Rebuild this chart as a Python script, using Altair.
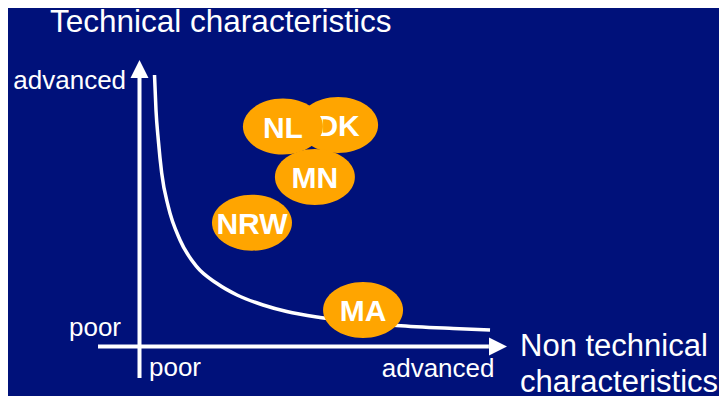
import altair as alt
import pandas as pd

# ---- data (units: 0 = origin, 10 = curve extent) ----
countries = ["DK", "NL", "MN", "NRW", "MA"]          # drawing order matters (overlaps)
nontech_score = [5.65, 4.08, 4.99, 3.20, 6.36]
tech_score = [8.16, 8.10, 6.24, 4.56, 1.34]

curve_x = [0.427, 0.469, 0.535, 0.632, 0.819, 1.152, 1.627, 2.196, 2.774,
           3.514, 4.188, 5.135, 7.317, 8.927, 9.972]
curve_y = [10.0, 8.711, 7.606, 6.379, 5.149, 3.923, 2.939, 2.328, 1.897,
           1.529, 1.289, 1.068, 0.773, 0.663, 0.608]

axis_labels = ["advanced", "poor", "poor", "advanced"]
axis_label_x = [-3.590, -2.006, 0.270, 6.891]
axis_label_y = [9.473, 0.387, -1.087, -1.112]

title_lines = ["Technical characteristics", "Non technical", "characteristics"]
title_x = [-2.546, 10.825, 10.825]
title_y = [11.602, -0.350, -1.665]
title_sizes = [31.5, 31, 31]

axis_seg_x = [0.0, -1.18]
axis_seg_y = [-1.16, 0.0]
axis_seg_x2 = [0.0, 9.94]
axis_seg_y2 = [9.93, 0.0]

# ---- styling ----
BG = "#00117A"
ORANGE = "#FFA500"
FONT = "Liberation Sans"
X_DOMAIN = [-3.741, 16.486]
Y_DOMAIN = [-1.823, 12.468]

ELLIPSE = ("M -1 0 C -1 -0.3866 -0.5523 -0.7 0 -0.7 C 0.5523 -0.7 1 -0.3866 1 0 "
           "C 1 0.3866 0.5523 0.7 0 0.7 C -0.5523 0.7 -1 0.3866 -1 0 Z")
ARROW_UP = "M 0 -1 L 1 1 L -1 1 Z"
ARROW_RIGHT = "M 1 0 L -1 -1 L -1 1 Z"

xs = alt.Scale(domain=X_DOMAIN, nice=False, zero=False)
ys = alt.Scale(domain=Y_DOMAIN, nice=False, zero=False)


def X(f):
    return alt.X(f, type="quantitative", scale=xs, axis=None)


def Y(f):
    return alt.Y(f, type="quantitative", scale=ys, axis=None)


curve_df = pd.DataFrame({"x": curve_x, "y": curve_y})
seg_df = pd.DataFrame({"x": axis_seg_x, "y": axis_seg_y, "x2": axis_seg_x2, "y2": axis_seg_y2})
arrow_up_df = pd.DataFrame({"x": [0.0], "y": [10.221]})
arrow_right_df = pd.DataFrame({"x": [10.199], "y": [0.0]})
lab_df = pd.DataFrame({"t": axis_labels, "x": axis_label_x, "y": axis_label_y})
tit_df = pd.DataFrame({"t": title_lines, "x": title_x, "y": title_y, "s": title_sizes})
c_df = pd.DataFrame({"c": countries, "x": nontech_score, "y": tech_score})

curve = alt.Chart(curve_df).mark_line(color="white", strokeWidth=3.5, interpolate="monotone").encode(
    x=X("x"), y=Y("y"))
segs = alt.Chart(seg_df).mark_rule(color="white", strokeWidth=4).encode(
    x=X("x"), y=Y("y"), x2="x2", y2="y2")
arr_up = alt.Chart(arrow_up_df).mark_point(shape=ARROW_UP, filled=True, fill="white", strokeWidth=0,
                                           size=324, opacity=1).encode(x=X("x"), y=Y("y"))
arr_right = alt.Chart(arrow_right_df).mark_point(shape=ARROW_RIGHT, filled=True, fill="white",
                                                 strokeWidth=0, size=324, opacity=1).encode(
    x=X("x"), y=Y("y"))
labels = alt.Chart(lab_df).mark_text(font=FONT, fontSize=26, color="white", align="left",
                                     baseline="alphabetic").encode(x=X("x"), y=Y("y"), text="t:N")
titles = alt.Chart(tit_df).mark_text(font=FONT, color="white", align="left",
                                     baseline="alphabetic").encode(
    x=X("x"), y=Y("y"), text="t:N", size=alt.Size("s:Q", scale=None))

layers = [curve, segs, arr_up, arr_right, labels, titles]
for c in countries:
    base = alt.Chart(c_df).transform_filter(alt.datum.c == c)
    layers.append(base.mark_point(shape=ELLIPSE, filled=True, fill=ORANGE, strokeWidth=0,
                                  size=6400, opacity=1).encode(x=X("x"), y=Y("y")))
    layers.append(base.mark_text(font=FONT, fontSize=30, fontWeight="bold", color="white",
                                 align="center", baseline="alphabetic", dy=11).encode(
        x=X("x"), y=Y("y"), text="c:N"))

chart = alt.layer(*layers).properties(
    width=711, height=388,
    autosize=alt.AutoSizeParams(type="none"),
    padding=0,
    background=BG,
).configure_view(stroke=None)

chart.save("out.html", embed_options={"renderer": "svg", "actions": False})
